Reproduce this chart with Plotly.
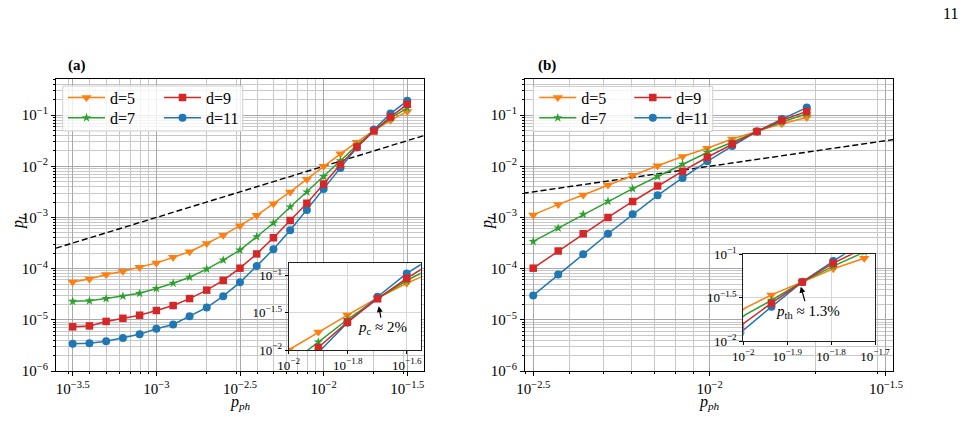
import plotly.graph_objects as go

# ---------------- data ----------------
# panel (a)
p_ph_a = [3.16e-4, 3.98e-4, 5.01e-4, 6.31e-4, 7.94e-4, 1.0e-3, 1.26e-3, 1.58e-3, 2.0e-3, 2.51e-3,
          3.16e-3, 3.98e-3, 5.01e-3, 6.31e-3, 7.94e-3, 1.0e-2, 1.26e-2, 1.58e-2, 2.0e-2, 2.51e-2, 3.16e-2]
pL_a_d5 = [5.5e-5, 6.3e-5, 7.7e-5, 8.9e-5, 1.07e-4, 1.29e-4, 1.66e-4, 2.14e-4, 3.1e-4, 4.5e-4,
           6.9e-4, 1.1e-3, 1.86e-3, 3.15e-3, 5.6e-3, 1.0e-2, 1.75e-2, 2.95e-2, 5.0e-2, 7.9e-2, 0.118]
pL_a_d7 = [2.3e-5, 2.35e-5, 2.6e-5, 2.9e-5, 3.3e-5, 4.1e-5, 5.2e-5, 6.8e-5, 9.8e-5, 1.47e-4,
           2.3e-4, 4.2e-4, 7.8e-4, 1.6e-3, 3.15e-3, 6.3e-3, 1.28e-2, 2.57e-2, 4.9e-2, 8.6e-2, 0.138]
pL_a_d9 = [7.3e-6, 7.6e-6, 9.3e-6, 1.07e-5, 1.23e-5, 1.52e-5, 1.9e-5, 2.6e-5, 3.8e-5, 5.9e-5,
           1.02e-4, 1.94e-4, 4.0e-4, 8.7e-4, 1.9e-3, 4.5e-3, 1.08e-2, 2.37e-2, 4.9e-2, 9.2e-2, 0.162]
pL_a_d11 = [3.4e-6, 3.5e-6, 3.8e-6, 4.4e-6, 5.2e-6, 6.7e-6, 8.1e-6, 1.18e-5, 1.74e-5, 2.9e-5,
            5.4e-5, 1.12e-4, 2.4e-4, 5.6e-4, 1.4e-3, 3.6e-3, 9.3e-3, 2.33e-2, 5.2e-2, 0.107, 0.19]

# panel (b)
p_ph_b = [3.16e-3, 3.72e-3, 4.38e-3, 5.15e-3, 6.05e-3, 7.12e-3, 8.38e-3, 9.85e-3,
          1.159e-2, 1.363e-2, 1.603e-2, 1.886e-2]
pL_b_d5 = [1.12e-3, 1.8e-3, 2.75e-3, 4.3e-3, 6.7e-3, 1.02e-2, 1.55e-2, 2.25e-2, 3.4e-2, 4.8e-2, 6.8e-2, 9.0e-2]
pL_b_d7 = [3.4e-4, 6.2e-4, 1.15e-3, 2.07e-3, 3.65e-3, 6.3e-3, 1.1e-2, 1.86e-2, 2.95e-2, 4.8e-2, 7.3e-2, 0.106]
pL_b_d9 = [1.02e-4, 2.2e-4, 4.8e-4, 1.0e-3, 2.05e-3, 4.1e-3, 8.0e-3, 1.5e-2, 2.73e-2, 4.8e-2, 7.9e-2, 0.118]
pL_b_d11 = [3.0e-5, 7.7e-5, 1.9e-4, 4.8e-4, 1.15e-3, 2.7e-3, 5.9e-3, 1.25e-2, 2.48e-2, 4.8e-2, 8.35e-2, 0.14]

# reference line p_L = p_ph
ref_a = [10 ** -3.6, 10 ** -1.4]
ref_b = [10 ** -2.53, 10 ** -1.47]

series_names = ["d=5", "d=7", "d=9", "d=11"]
colors = {"d=5": "#ff7f0e", "d=7": "#2ca02c", "d=9": "#d62728", "d=11": "#1f77b4"}
symbols = {"d=5": "triangle-down", "d=7": "star", "d=9": "square", "d=11": "circle"}
msize = {"d=5": 9, "d=7": 7, "d=9": 7.5, "d=11": 8}

# tick labels
main_x_a_vals = [10 ** -3.5, 1e-3, 10 ** -2.5, 1e-2, 10 ** -1.5]
main_x_a_text = ["10<sup>−3.5</sup>", "10<sup>−3</sup>", "10<sup>−2.5</sup>", "10<sup>−2</sup>", "10<sup>−1.5</sup>"]
main_x_b_vals = [10 ** -2.5, 1e-2, 10 ** -1.5]
main_x_b_text = ["10<sup>−2.5</sup>", "10<sup>−2</sup>", "10<sup>−1.5</sup>"]
main_y_vals = [1e-6, 1e-5, 1e-4, 1e-3, 1e-2, 1e-1]
main_y_text = ["10<sup>−6</sup>", "10<sup>−5</sup>", "10<sup>−4</sup>", "10<sup>−3</sup>", "10<sup>−2</sup>", "10<sup>−1</sup>"]
ins_x_a_vals = [1e-2, 10 ** -1.8, 10 ** -1.6]
ins_x_a_text = ["10<sup>−2</sup>", "10<sup>−1.8</sup>", "10<sup>−1.6</sup>"]
ins_x_b_vals = [1e-2, 10 ** -1.9, 10 ** -1.8, 10 ** -1.7]
ins_x_b_text = ["10<sup>−2</sup>", "10<sup>−1.9</sup>", "10<sup>−1.8</sup>", "10<sup>−1.7</sup>"]
ins_y_vals = [1e-2, 10 ** -1.5, 1e-1]
ins_y_text = ["10<sup>−2</sup>", "10<sup>−1.5</sup>", "10<sup>−1</sup>"]

minor_log = [m * 10 ** e for e in range(-7, 0) for m in range(2, 10)]

# ---------------- layout helpers ----------------
W, H = 967, 444
SERIF = "Liberation Serif"


def px(x):
    return x / W


def py(y):
    return 1 - y / H


data_a = {"d=5": pL_a_d5, "d=7": pL_a_d7, "d=9": pL_a_d9, "d=11": pL_a_d11}
data_b = {"d=5": pL_b_d5, "d=7": pL_b_d7, "d=9": pL_b_d9, "d=11": pL_b_d11}
draw_order = ["d=5", "d=7", "d=11", "d=9"]

legend_ids_a = {"d=5": "legend", "d=7": "legend2", "d=9": "legend3", "d=11": "legend4"}
legend_ids_b = {"d=5": "legend5", "d=7": "legend6", "d=9": "legend7", "d=11": "legend8"}

fig = go.Figure()

for panel, xs, dd, xa, ya, xi, yi, legids in [
    ("a", p_ph_a, data_a, "x", "y", "x3", "y3", legend_ids_a),
    ("b", p_ph_b, data_b, "x2", "y2", "x4", "y4", legend_ids_b),
]:
    ref = ref_a if panel == "a" else ref_b
    fig.add_trace(go.Scatter(x=ref, y=ref, mode="lines", xaxis=xa, yaxis=ya,
                             line=dict(color="black", width=1.4, dash="6px,3px"),
                             showlegend=False, hoverinfo="skip"))
    for name in draw_order:
        fig.add_trace(go.Scatter(
            x=xs, y=dd[name], mode="lines+markers", name=name, xaxis=xa, yaxis=ya,
            line=dict(color=colors[name], width=1.5),
            marker=dict(symbol=symbols[name], size=msize[name], color=colors[name], line=dict(width=0)),
            legend=legids[name], showlegend=True))
    for name in draw_order:
        fig.add_trace(go.Scatter(
            x=xs, y=dd[name], mode="lines+markers", name=name, xaxis=xi, yaxis=yi,
            line=dict(color=colors[name], width=1.5),
            marker=dict(symbol=symbols[name], size=msize[name], color=colors[name], line=dict(width=0)),
            showlegend=False))


def main_axis(rng, dom, anchor, vals, text, minor_vals):
    return dict(type="log", range=rng, domain=dom, anchor=anchor,
                tickmode="array", tickvals=vals, ticktext=text,
                ticks="outside", ticklen=4, tickwidth=1, tickcolor="black",
                showline=True, linecolor="black", linewidth=1, mirror=True,
                showgrid=True, gridcolor="#a8a8a8", gridwidth=1, zeroline=False,
                automargin=False,
                tickfont=dict(family=SERIF, size=15, color="black"),
                minor=dict(tickvals=minor_vals, ticks="outside", ticklen=2, tickwidth=0.8,
                           tickcolor="black", showgrid=True, gridcolor="#c8c8c8", gridwidth=1))


def inset_axis(rng, dom, anchor, vals, text):
    return dict(type="log", range=rng, domain=dom, anchor=anchor,
                tickmode="array", tickvals=vals, ticktext=text,
                ticks="outside", ticklen=3, tickwidth=1, tickcolor="black",
                showline=True, linecolor="#222222", linewidth=1.2, mirror=True,
                showgrid=True, gridcolor="#d8d8d8", gridwidth=1, zeroline=False,
                automargin=False,
                tickfont=dict(family=SERIF, size=13, color="black"))


layout = dict(
    width=W, height=H, margin=dict(l=0, r=0, t=0, b=0, autoexpand=False),
    paper_bgcolor="white", plot_bgcolor="white",
    xaxis=main_axis([-3.6, -1.4], [px(56), px(424)], "y", main_x_a_vals, main_x_a_text, minor_log),
    yaxis=main_axis([-6, -0.301], [py(371), py(79.3)], "x", main_y_vals, main_y_text, minor_log),
    xaxis2=main_axis([-2.5236, -1.479], [px(525), px(893.3)], "y2", main_x_b_vals, main_x_b_text, minor_log),
    yaxis2=main_axis([-6, -0.301], [py(371), py(79.3)], "x2", main_y_vals, main_y_text, minor_log),
    xaxis3=inset_axis([-2.0, -1.553], [px(288.7), px(420.7)], "y3", ins_x_a_vals, ins_x_a_text),
    yaxis3=inset_axis([-2.0, -0.834], [py(350), py(263.3)], "x3", ins_y_vals, ins_y_text),
    xaxis4=inset_axis([-2.0, -1.7], [px(743.3), px(875)], "y4", ins_x_b_vals, ins_x_b_text),
    yaxis4=inset_axis([-2.0, -1.0], [py(341), py(254.3)], "x4", ins_y_vals, ins_y_text),
    showlegend=True,
)

# legends: one per entry, arranged in 2 columns as in the reference
row_top = [80.5, 100.8]
leg_pos = {
    "legend": (63, row_top[0]), "legend2": (63, row_top[1]),
    "legend3": (159, row_top[0]), "legend4": (159, row_top[1]),
    "legend5": (534.3, row_top[0]), "legend6": (534.3, row_top[1]),
    "legend7": (629.3, row_top[0]), "legend8": (629.3, row_top[1]),
}
for lid, (lx, ly) in leg_pos.items():
    layout[lid] = dict(x=px(lx), y=py(ly), xanchor="left", yanchor="top",
                       bgcolor="rgba(0,0,0,0)", borderwidth=0, itemwidth=37,
                       font=dict(family=SERIF, size=16, color="black"))

fig.update_layout(**layout)

# legend frames
for (x0, y0, x1, y1) in [(62.7, 86, 242.7, 131), (533.3, 86.5, 712.7, 131.5)]:
    fig.add_shape(type="rect", xref="paper", yref="paper",
                  x0=px(x0), x1=px(x1), y0=py(y1), y1=py(y0),
                  line=dict(color="#d0d0d0", width=1), fillcolor="rgba(255,255,255,0.8)", layer="above")

ann_font = dict(family=SERIF, size=16, color="black")


def paper_text(text, x, y, font, angle=0):
    fig.add_annotation(text=text, x=px(x), y=py(y), xref="paper", yref="paper",
                       xanchor="center", yanchor="middle", showarrow=False,
                       textangle=angle, font=font)


paper_text("<b>(a)</b>", 76.5, 65.5, dict(family=SERIF, size=15, color="black"))
paper_text("<b>(b)</b>", 547, 65.5, dict(family=SERIF, size=15, color="black"))
paper_text("11", 950, 13.5, ann_font)
for xc in [18, 487]:
    paper_text("<i>p</i><sub><i>L</i></sub>", xc, 222, ann_font, angle=-90)
for xc in [240, 709]:
    paper_text("<i>p</i><sub><i>ph</i></sub>", xc, 402.5, ann_font)

fig.add_annotation(text="<i>p</i><sub>c</sub> ≈ 2%", xref="x3", yref="y3", x=-1.695, y=-1.41,
                   ax=4, ay=22, showarrow=True, arrowhead=2, arrowsize=1, arrowwidth=1.2,
                   arrowcolor="black", font=dict(family=SERIF, size=15, color="black"))
fig.add_annotation(text="<i>p</i><sub>th</sub> ≈ 1.3%", xref="x4", yref="y4", x=-1.869, y=-1.373,
                   ax=7, ay=25, showarrow=True, arrowhead=2, arrowsize=1, arrowwidth=1.2,
                   arrowcolor="black", font=dict(family=SERIF, size=15, color="black"))

fig.write_html("out.html")
